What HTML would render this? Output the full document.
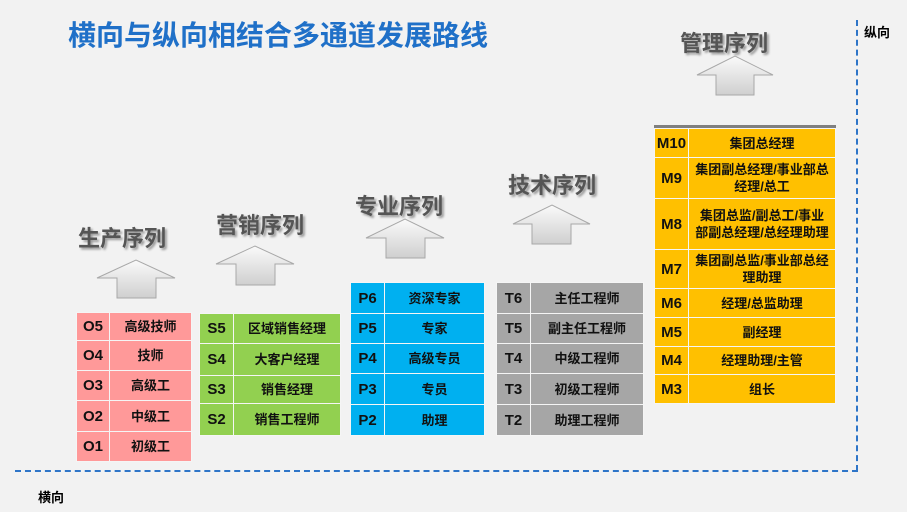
<!DOCTYPE html>
<html><head><meta charset="utf-8"><style>
*{margin:0;padding:0;box-sizing:border-box}
body{width:907px;height:512px;background:#f2f2f2;position:relative;overflow:hidden;font-family:"Liberation Sans","Noto Sans CJK SC",sans-serif}
.a{position:absolute}
.title{left:68px;top:14px;font-size:28px;font-weight:bold;color:#1f70c8}
.lab{position:absolute;font-size:22px;font-weight:bold;color:#555;text-shadow:2px 2px 2px #999}
table{position:absolute;border-collapse:collapse;font-weight:bold;color:#111;font-size:13px}
td{border:1.5px solid #f5f5f5;text-align:center;padding:0;line-height:17px}
td.c{font-size:15px}
.o td{background:#ff9999}.s td{background:#92d050}.p td{background:#00b0f0}.t td{background:#a6a6a6}.m td{background:#ffc000}
.m td{font-size:13px;line-height:17px}
.m td.c{font-size:15px}
</style></head><body>
<div class="a title">横向与纵向相结合多通道发展路线</div>
<div class="a" style="left:856px;top:20px;height:451px;border-left:2px dashed #2e75c8"></div>
<div class="a" style="left:15px;top:470px;width:843px;border-top:2px dashed #2e75c8"></div>
<div class="a" style="left:864px;top:22px;font-size:13px;font-weight:bold">纵向</div>
<div class="a" style="left:38px;top:487px;font-size:13px;font-weight:bold">横向</div>

<div class="lab" style="left:78px;top:221px">生产序列</div>
<div class="lab" style="left:216px;top:208px">营销序列</div>
<div class="lab" style="left:355px;top:189px">专业序列</div>
<div class="lab" style="left:508px;top:168px">技术序列</div>
<div class="lab" style="left:680px;top:26px">管理序列</div>

<svg class="a" style="left:0;top:0" width="907" height="512">
<defs><linearGradient id="g" x1="0" y1="0" x2="0" y2="1"><stop offset="0" stop-color="#fafafa"/><stop offset="1" stop-color="#cfcfcf"/></linearGradient></defs>
<g fill="url(#g)" stroke="#a8a8a8" stroke-width="1">
<polygon points="97,278 136,260 175,278 156,278 156,298 117,298 117,278"/>
<polygon points="216,264 255,246 294,264 275,264 275,285 236,285 236,264"/>
<polygon points="366,238 405,219 444,238 425,238 425,258 386,258 386,238"/>
<polygon points="513,224 552,205 590,224 571,224 571,244 532,244 532,224"/>
<polygon points="697,75 735,56 773,75 754,75 754,95 716,95 716,75"/>
</g>
</svg>

<table class="o" style="left:76px;top:312px;width:116px">
<tr style="height:28px"><td class="c" style="width:33px">O5</td><td>高级技师</td></tr>
<tr style="height:30px"><td class="c">O4</td><td>技师</td></tr>
<tr style="height:30px"><td class="c">O3</td><td>高级工</td></tr>
<tr style="height:31px"><td class="c">O2</td><td>中级工</td></tr>
<tr style="height:30px"><td class="c">O1</td><td>初级工</td></tr>
</table>
<table class="s" style="left:199px;top:313px;width:142px">
<tr style="height:30px"><td class="c" style="width:34px">S5</td><td>区域销售经理</td></tr>
<tr style="height:32px"><td class="c">S4</td><td>大客户经理</td></tr>
<tr style="height:28px"><td class="c">S3</td><td>销售经理</td></tr>
<tr style="height:32px"><td class="c">S2</td><td>销售工程师</td></tr>
</table>
<table class="p" style="left:350px;top:282px;width:135px">
<tr style="height:31px"><td class="c" style="width:34px">P6</td><td>资深专家</td></tr>
<tr style="height:30px"><td class="c">P5</td><td>专家</td></tr>
<tr style="height:30px"><td class="c">P4</td><td>高级专员</td></tr>
<tr style="height:31px"><td class="c">P3</td><td>专员</td></tr>
<tr style="height:31px"><td class="c">P2</td><td>助理</td></tr>
</table>
<table class="t" style="left:496px;top:282px;width:148px">
<tr style="height:31px"><td class="c" style="width:34px">T6</td><td>主任工程师</td></tr>
<tr style="height:30px"><td class="c">T5</td><td>副主任工程师</td></tr>
<tr style="height:30px"><td class="c">T4</td><td>中级工程师</td></tr>
<tr style="height:31px"><td class="c">T3</td><td>初级工程师</td></tr>
<tr style="height:31px"><td class="c">T2</td><td>助理工程师</td></tr>
</table>
<div class="a" style="left:654px;top:125px;width:182px;height:4px;background:#808080"></div>
<table class="m" style="left:654px;top:128px;width:182px">
<tr style="height:29px"><td class="c" style="width:34px">M10</td><td>集团总经理</td></tr>
<tr style="height:41px"><td class="c">M9</td><td>集团副总经理/事业部总<br>经理/总工</td></tr>
<tr style="height:51px"><td class="c">M8</td><td>集团总监/副总工/事业<br>部副总经理/总经理助理</td></tr>
<tr style="height:39px"><td class="c">M7</td><td>集团副总监/事业部总经<br>理助理</td></tr>
<tr style="height:29px"><td class="c">M6</td><td>经理/总监助理</td></tr>
<tr style="height:29px"><td class="c">M5</td><td>副经理</td></tr>
<tr style="height:28px"><td class="c">M4</td><td>经理助理/主管</td></tr>
<tr style="height:29px"><td class="c">M3</td><td>组长</td></tr>
</table>
</body></html>
